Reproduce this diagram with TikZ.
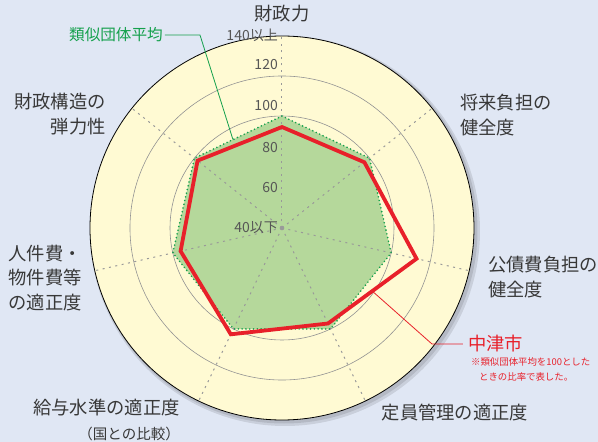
\documentclass[tikz,border=0pt]{standalone}
\usepackage{fontspec}
\setmainfont{Noto Sans CJK JP}
\usepackage{xcolor}
\usetikzlibrary{calc}

\definecolor{bgblue}{HTML}{E0E7F4}
\definecolor{diskyellow}{HTML}{FFFAD3}
\definecolor{avgfill}{HTML}{B5D89B}
\definecolor{avggreen}{HTML}{14A04C}
\definecolor{cityred}{HTML}{E8202A}
\definecolor{labgray}{HTML}{383838}

\begin{document}
\begin{tikzpicture}[
    x=1pt, y=1pt,
    ring/.style={draw=gray!85, line width=0.6pt},
    spoke/.style={draw=gray!80, line width=1pt, dash pattern=on 2pt off 4.5pt},
    axislab/.style={text=labgray, font=\fontsize{18.3}{24.5}\selectfont, inner sep=2pt},
    scalelab/.style={text=labgray!85, font=\fontsize{14}{16}\selectfont, inner sep=1pt, anchor=east},
    avgpoly/.style={fill=avgfill, draw=avggreen, line width=1.8pt, line cap=round, dash pattern=on 0pt off 3.8pt},
    citypoly/.style={draw=cityred, line width=3.8pt, line join=miter},
    leader/.style={line width=0.8pt}
]

% Fond
\fill[bgblue] (-282,-214) rectangle (316,228);
\useasboundingbox (-282,-214) rectangle (316,228);

% Disque et ombre
\fill[black, opacity=0.10] (3,-3) circle (195);
\fill[black, opacity=0.10] (2,-2) circle (193.5);
\draw[fill=diskyellow, line width=0.8pt] (0,0) coordinate (ctr) circle (192);

% Cercles 60 a 120
\draw[ring] (ctr) circle (32);
\draw[ring] (ctr) circle (72);
\draw[ring] (ctr) circle (112);
\draw[ring] (ctr) circle (152);

% Sommets : moyenne (100) et Nakatsu
\foreach \v [count=\i from 0] in {100,100,100,100,100,100,100}
    \coordinate (av\i) at ({90-\i*360/7}:{2*\v-88});
\foreach \v [count=\i from 0] in {94.5,96.7,113,97,103,96,98}
    \coordinate (nk\i) at ({90-\i*360/7}:{2*\v-88});
\foreach \i in {0,...,6}
    \coordinate (tip\i) at ({90-\i*360/7}:192);

% Polygone moyenne
\fill[avgfill] (av0) -- (av1) -- (av2) -- (av3) -- (av4) -- (av5) -- (av6) -- cycle;

% Rayons
\foreach \i in {0,...,6}
    \draw[spoke] (ctr) -- (tip\i);
\fill[gray!80] (ctr) circle (2.3);

\draw[avgpoly, fill=none] (av0) -- (av1) -- (av2) -- (av3) -- (av4) -- (av5) -- (av6) -- cycle;

% Polygone Nakatsu
\draw[citypoly] (nk0) -- (nk1) -- (nk2) -- (nk3) -- (nk4) -- (nk5) -- (nk6) -- cycle;

% Graduations
\node[scalelab] (s140) at (-3,193) {140以上};
\node[scalelab] (s120) at (-3,163) {120};
\node[scalelab] (s100) at (-3,122) {100};
\node[scalelab] (s80) at (-3,80) {80};
\node[scalelab] (s60) at (-3,40) {60};
\node[scalelab] (s40) at (-3,0) {40以下};

% Axes
\node[axislab] (zaisei) at (0,214) {財政力};
\node[axislab, anchor=west, align=left] (shorai) at (176,113) {将来負担の\\健全度};
\node[axislab, anchor=west, align=left] (kosaihi) at (204,-49) {公債費負担の\\健全度};
\node[axislab] (teiin) at (173,-185) {定員管理の適正度};
\node[axislab, anchor=east, align=right] (kyuyo) at (-100,-192)
    {給与水準の適正度\\{\fontsize{14.5}{18}\selectfont （国との比較）}};
\node[axislab, anchor=east, align=right] (jinken) at (-198,-50) {人件費・\\物件費等\\の適正度};
\node[axislab, anchor=east, align=right] (kozo) at (-174,114) {財政構造の\\弾力性};

% Legende moyenne
\node[text=avggreen, font=\fontsize{15.6}{17}\selectfont, anchor=east, inner sep=2pt] (avglab) at (-117,193) {類似団体平均};
\coordinate (avgtip) at ($(av0)!0.56!(av6)$);
\coordinate (avgbend) at (-82,193);
\draw[avggreen, leader] (avglab.east) -- (avgbend) -- (avgtip);

% Legende Nakatsu
\node[text=cityred, font=\fontsize{18.3}{20}\selectfont, anchor=west, inner sep=5pt] (nakatsu) at (181,-116) {中津市};
\node[text=cityred, font=\fontsize{9.4}{15}\selectfont, anchor=west, align=left, inner sep=1pt] (note) at (188,-141.5)
    {※類似団体平均を100とした\\\hspace*{0.85em}ときの比率で表した。};
\coordinate (citytip) at ($(nk2)!0.5!(nk3)$);
\coordinate (citybend) at (150,-116);
\draw[cityred, leader] (citytip) -- (citybend) -- (nakatsu.west);

\end{tikzpicture}
\end{document}
